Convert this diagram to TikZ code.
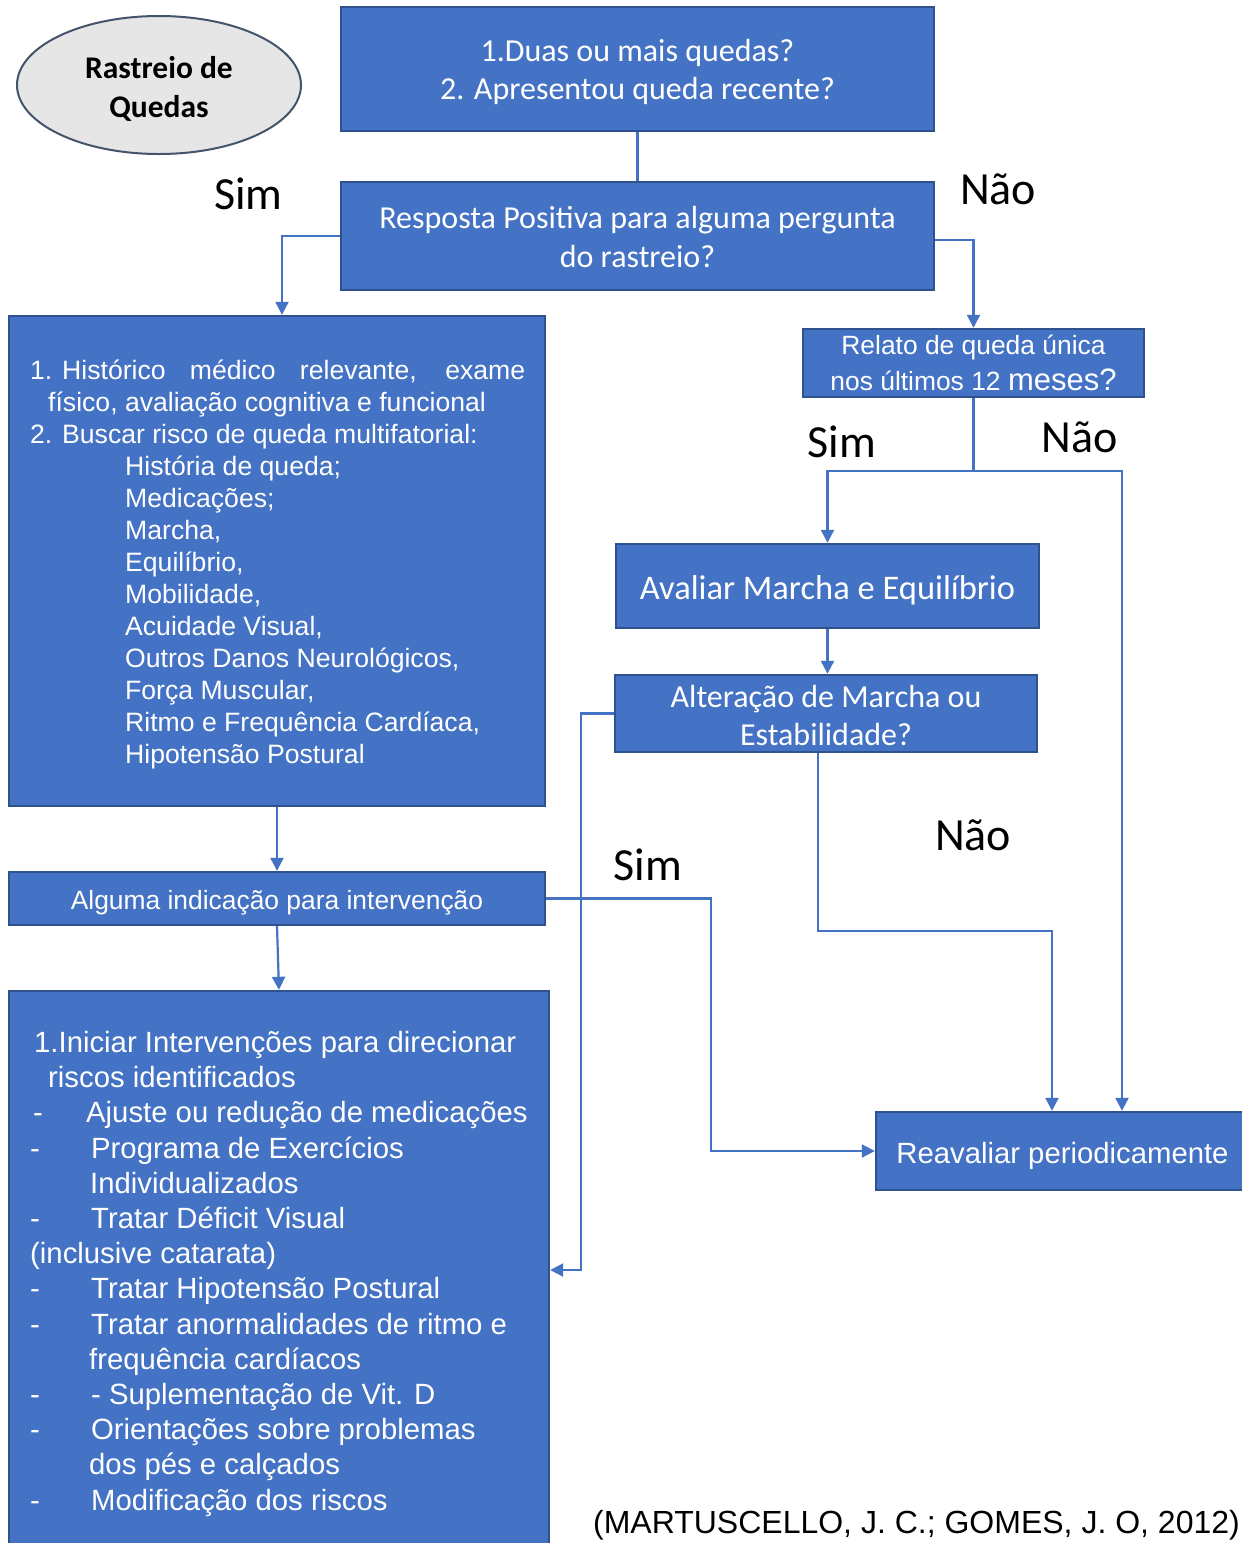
\documentclass[tikz,border=0pt]{standalone}
\usepackage{fontspec}
\setmainfont{Liberation Sans}
\newfontfamily\calfont{Carlito}
\usetikzlibrary{arrows.meta,shapes.geometric}
\definecolor{boxblue}{HTML}{4472C4}
\definecolor{boxedge}{HTML}{2F528F}
\definecolor{ovalfill}{HTML}{E7E6E6}
\definecolor{ovaledge}{HTML}{44546A}
% invisible strut that sets the height of a first line
\newcommand\liftline[1]{\rule{0pt}{#1}}

\begin{document}
\begin{tikzpicture}[x=1pt,y=-1pt,
  box/.style={draw=boxedge, line width=2.4pt, fill=boxblue, text=white, inner sep=0pt, align=center},
  cal/.style={font=\calfont\fontsize{32}{38}\selectfont},
  listtext/.style={anchor=base west, inner sep=0pt, text=white},
  link/.style={draw=boxblue, line width=2.2pt},
  arr/.style={link, -{Triangle[length=13pt,width=13pt]}},
  answer/.style={font=\calfont\fontsize{46}{50}\selectfont, anchor=base, inner sep=0pt},
]
\clip (0,0) rectangle (1242,1543);
\fill[white] (0,0) rectangle (1242,1543);

% start of the screening
\node[ellipse, draw=ovaledge, line width=2pt, fill=ovalfill, minimum width=284pt, minimum height=138pt,
      inner sep=0pt, align=center, font=\calfont\bfseries\fontsize{31.5}{39}\selectfont] (scr) at (159,85)
      {\liftline{30pt}Rastreio de\\Quedas};

% questions
\node[box, cal, minimum width=593pt, minimum height=124pt] (q1) at (637.5,69)
  {\liftline{29pt}1.Duas ou mais quedas?\\2. Apresentou queda recente?};
\node[box, font=\calfont\fontsize{32}{39}\selectfont, minimum width=593pt, minimum height=108pt] (q2) at (637.5,236)
  {\liftline{25pt}Resposta Positiva para alguma pergunta\\do rastreio?};
\node[box, font=\fontsize{26.4}{36}\selectfont, minimum width=341pt, minimum height=68pt] (q3) at (973.5,363)
  {Relato de queda única\\nos últimos 12 {\fontsize{31}{36}\selectfont meses?}};
\node[box, font=\calfont\fontsize{34.5}{40}\selectfont, minimum width=423pt, minimum height=84pt] (gait) at (827.5,586)
  {\liftline{32pt}Avaliar Marcha e Equilíbrio};
\node[box, cal, minimum width=422pt, minimum height=77pt] (chg) at (826,713.5)
  {\liftline{27pt}Alteração de Marcha ou\\Estabilidade?};

% assessment box
\node[box, minimum width=536pt, minimum height=490pt] (hist) at (277,561) {};
\node[listtext] (histtext) at (30,379.5) {\parbox[t]{495pt}{\fontsize{26.6}{32}\selectfont
\makebox[32pt][l]{1.}\makebox[463pt][s]{Histórico médico relevante, exame}\\
\hspace*{18pt}físico, avaliação cognitiva e funcional\\
\makebox[32pt][l]{2.}Buscar risco de queda multifatorial:\\
\hspace*{95pt}História de queda;\\
\hspace*{95pt}Medicações;\\
\hspace*{95pt}Marcha,\\
\hspace*{95pt}Equilíbrio,\\
\hspace*{95pt}Mobilidade,\\
\hspace*{95pt}Acuidade Visual,\\
\hspace*{95pt}Outros Danos Neurológicos,\\
\hspace*{95pt}Força Muscular,\\
\hspace*{95pt}Ritmo e Frequência Cardíaca,\\
\hspace*{95pt}Hipotensão Postural}};

\node[box, font=\fontsize{26.4}{30}\selectfont, minimum width=536pt, minimum height=53pt] (ind) at (277,898.5)
  {\liftline{27.5pt}Alguma indicação para intervenção};

% interventions box
\node[box, minimum width=540pt, minimum height=580pt] (act) at (279,1281) {};
\node[listtext] (acttext) at (30,1052.5) {\parbox[t]{500pt}{\fontsize{29.3}{35.2}\selectfont
\hspace*{4pt}1.Iniciar Intervenções para direcionar\\
\hspace*{18pt}riscos identificados\\
\makebox[56pt][l]{\hspace*{3pt}-}Ajuste ou redução de medicações\\
\makebox[61pt][l]{-}Programa de Exercícios\\
\hspace*{60pt}Individualizados\\
\makebox[61pt][l]{-}Tratar Déficit Visual\\
(inclusive catarata)\\
\makebox[61pt][l]{-}Tratar Hipotensão Postural\\
\makebox[61pt][l]{-}Tratar anormalidades de ritmo e\\
\hspace*{59pt}frequência cardíacos\\
\makebox[61pt][l]{-}- Suplementação de Vit. D\\
\makebox[61pt][l]{-}Orientações sobre problemas\\
\hspace*{59pt}dos pés e calçados\\
\makebox[61pt][l]{-}Modificação dos riscos}};

\node[box, font=\fontsize{29.3}{34}\selectfont, minimum width=373pt, minimum height=78pt] (reav) at (1062.5,1151)
  {\liftline{31.5pt}Reavaliar periodicamente};

% answers
\node[answer] (s1) at (248.5,209) {Sim};
\node[answer] (n1) at (998,204) {Não};
\node[answer] (s2) at (842,457) {Sim};
\node[answer] (n2) at (1079.5,452) {Não};
\node[answer] (n3) at (973,850) {Não};
\node[answer] (s3) at (648,880) {Sim};

% source
\node[font=\fontsize{32}{36}\selectfont, anchor=base east, inner sep=0pt] (src) at (1240,1533)
  {(MARTUSCELLO, J. C.; GOMES, J. O, 2012)};

% connectors
\draw[link] (q1.south) -- (q2.north);
\draw[arr] (q2.west) -| ([xshift=5pt]hist.north);
\draw[arr] ([yshift=-4pt]q2.east) -| (q3.north);
\draw[link] (q3.south) -- ++(0,73) coordinate (fork);
\draw[arr] (fork) -| (gait.north);
\draw[arr] (fork) -| ([xshift=59.5pt]reav.north);
\draw[arr] (gait.south) -- (gait.south |- chg.north);
\draw[arr] (chg.west) -- ++(-33,0) |- (act.east |- 0,1270);
\draw[arr] ([xshift=-8pt]chg.south) -- ++(0,178) -| ([xshift=-10.5pt]reav.north);
\draw[arr] (hist.south) -- (ind.north);
\draw[arr] (ind.east) -- ++(165,0) |- (reav.west);
\draw[arr] (ind.south) -- (act.north);
\end{tikzpicture}
\end{document}
